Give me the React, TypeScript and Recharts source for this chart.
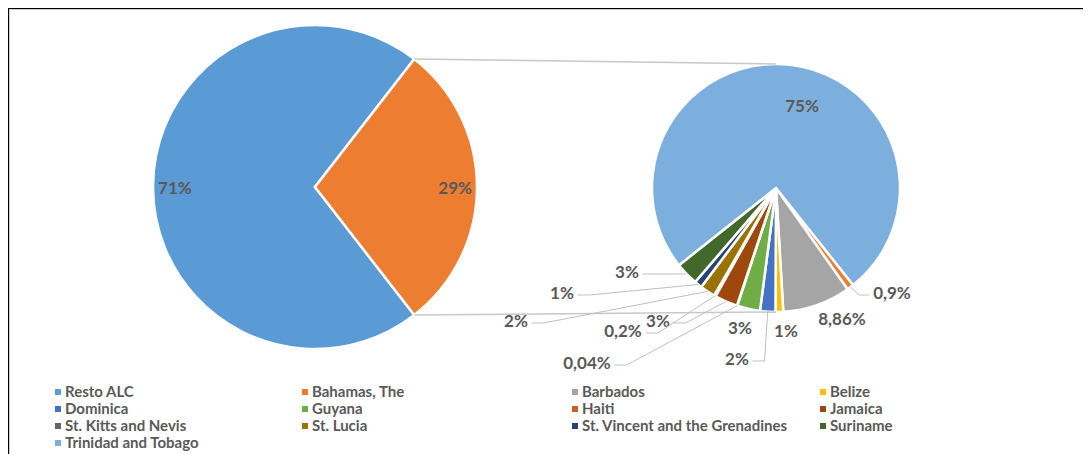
/**
 * Pie of pie: Resto ALC vs Caribe, con desglose por país del Caribe
 */
import { PieChart, Pie, Cell, Legend } from 'recharts';

// primer pie
const mainNames = ['Resto ALC', 'Caribe'];
const mainValues = [71, 29];
const mainColors = ['#5B9BD5', '#ED7D31'];

// segundo pie (desglose del Caribe)
const caribNames = [
  'Bahamas, The',
  'Barbados',
  'Belize',
  'Dominica',
  'Guyana',
  'Haiti',
  'Jamaica',
  'St. Kitts and Nevis',
  'St. Lucia',
  'St. Vincent and the Grenadines',
  'Suriname',
  'Trinidad and Tobago',
];
const caribValues = [0.9, 8.86, 1, 2, 3, 0.04, 3, 0.2, 2, 1, 3, 75];
const caribColors = [
  '#ED7D31',
  '#A5A5A5',
  '#FFC000',
  '#4472C4',
  '#70AD47',
  '#CC6020',
  '#9E480E',
  '#636363',
  '#997300',
  '#264478',
  '#43682B',
  '#7CAFDD',
];

// layout
const W = 1081;
const H = 444;
const LEFT = { cx: 305, cy: 177, r: 162, start: 52.2 };
const RIGHT = { cx: 766, cy: 178, r: 124, start: -51.5 };
// posiciones de las etiquetas del segundo pie (dx, dy desde el centro, con línea guía)
const caribLabelPos: [number, number, boolean][] = [
  [116, 104, true],
  [66, 130, false],
  [10, 142, false],
  [-39, 170, true],
  [-36, 139, false],
  [-189, 174, true],
  [-118, 132, true],
  [-153, 142, true],
  [-260, 132, true],
  [-214, 104, true],
  [-149, 83, true],
  [26, -83, false],
];

const RAD = Math.PI / 180;
const LABEL_COLOR = '#595959';
const FONT = 'Lato, "Open Sans", sans-serif';

const fmtPct = (v: number) => String(v).replace('.', ',') + '%';

const textWidth = (s: string) => {
  let w = 0;
  for (const ch of s) {
    if (ch === ',') w += 4.5;
    else if (ch === '%') w += 15;
    else w += 10;
  }
  return w;
};

const mainData = mainNames.map((name, i) => ({ name, value: mainValues[i] }));
const caribData = caribNames.map((name, i) => ({ name, value: caribValues[i] }));

const legendNames = [mainNames[0], ...caribNames];
const legendColors = [mainColors[0], ...caribColors];

const polar = (cx: number, cy: number, r: number, angle: number) => ({
  x: cx + r * Math.cos(-angle * RAD),
  y: cy + r * Math.sin(-angle * RAD),
});

const renderMainLabel = (p: any) => {
  const { cx, cy, midAngle, outerRadius, index } = p;
  const pos = polar(cx, cy, outerRadius * 0.865, midAngle);
  let connectors = null;
  if (index === 1) {
    // líneas que unen la porción del Caribe con el segundo pie
    const total = mainValues.reduce((a, b) => a + b, 0);
    const a0 = LEFT.start + (360 * mainValues[0]) / total;
    const a1 = LEFT.start + 360;
    const p0 = polar(cx, cy, outerRadius, a1);
    const p1 = polar(cx, cy, outerRadius, a0);
    connectors = (
      <g stroke="#C8C8C8" strokeWidth={1.5}>
        <line x1={p0.x} y1={p0.y} x2={RIGHT.cx} y2={RIGHT.cy - RIGHT.r} />
        <line x1={p1.x} y1={p1.y} x2={RIGHT.cx} y2={RIGHT.cy + RIGHT.r} />
      </g>
    );
  }
  return (
    <g>
      {connectors}
      <text
        x={pos.x}
        y={pos.y}
        textAnchor="middle"
        dominantBaseline="central"
        fill={LABEL_COLOR}
        fontSize={17}
        fontWeight={700}
        fontFamily={FONT}
      >
        {fmtPct(mainValues[index])}
      </text>
    </g>
  );
};

const renderCaribLabel = (p: any) => {
  const { cx, cy, midAngle, outerRadius, index } = p;
  const [dx, dy, hasLine] = caribLabelPos[index];
  const tx = cx + dx;
  const ty = cy + dy;
  const text = fmtPct(caribValues[index]);
  let guide = null;
  if (hasLine) {
    const w = textWidth(text);
    const s = polar(cx, cy, outerRadius, midAngle);
    const right = dx > 0;
    const ex = right ? tx - w / 2 - 3 : tx + w / 2 + 3;
    const ey = ty + 3;
    const bx = right ? ex - 10 : ex + 12;
    guide = (
      <polyline
        points={`${s.x},${s.y} ${bx},${ey} ${ex},${ey}`}
        fill="none"
        stroke="#BFBFBF"
        strokeWidth={1}
      />
    );
  }
  return (
    <g>
      {guide}
      <text
        x={tx}
        y={ty}
        textAnchor="middle"
        dominantBaseline="central"
        fill={LABEL_COLOR}
        fontSize={17}
        fontWeight={700}
        fontFamily={FONT}
      >
        {text}
      </text>
    </g>
  );
};

const renderLegend = () => (
  <div
    style={{
      display: 'grid',
      gridTemplateColumns: '247px 270px 248px 200px',
      paddingLeft: 45,
      fontFamily: FONT,
      fontSize: 15,
      fontWeight: 700,
      color: LABEL_COLOR,
      lineHeight: '17px',
    }}
  >
    {legendNames.map((name, i) => (
      <div key={name} style={{ display: 'flex', alignItems: 'center', whiteSpace: 'nowrap' }}>
        <span
          style={{
            display: 'inline-block',
            width: 6,
            height: 6,
            background: legendColors[i],
            marginRight: 4,
          }}
        />
        {name}
      </div>
    ))}
  </div>
);

export default function App() {
  return (
    <div
      style={{
        marginTop: -1,
        marginLeft: -1,
        width: 1084,
        height: 447,
        borderTop: '2px solid #000',
        borderLeft: '2px solid #000',
        overflow: 'hidden',
        boxSizing: 'border-box',
      }}
    >
      <div
        style={{
          borderTop: '1px solid #D0D0D0',
          borderLeft: '1px solid #D0D0D0',
          width: W + 1,
          height: H + 1,
          background: '#fff',
        }}
      >
        <PieChart width={W} height={H} margin={{ top: 0, right: 0, bottom: 0, left: 0 }}>
          <Pie
            data={mainData}
            dataKey="value"
            nameKey="name"
            cx={LEFT.cx}
            cy={LEFT.cy}
            outerRadius={LEFT.r}
            startAngle={LEFT.start}
            endAngle={LEFT.start + 360}
            stroke="#fff"
            strokeWidth={2.5}
            label={renderMainLabel}
            labelLine={false}
            isAnimationActive={false}
          >
            {mainData.map((d, i) => (
              <Cell key={d.name} fill={mainColors[i]} />
            ))}
          </Pie>
          <Pie
            data={caribData}
            dataKey="value"
            nameKey="name"
            cx={RIGHT.cx}
            cy={RIGHT.cy}
            outerRadius={RIGHT.r}
            startAngle={RIGHT.start}
            endAngle={RIGHT.start - 360}
            stroke="#fff"
            strokeWidth={2.5}
            label={renderCaribLabel}
            labelLine={false}
            isAnimationActive={false}
          >
            {caribData.map((d, i) => (
              <Cell key={d.name} fill={caribColors[i]} />
            ))}
          </Pie>
          <Legend
            content={renderLegend}
            wrapperStyle={{ position: 'absolute', left: 0, top: 373, width: W, bottom: 'auto' }}
          />
        </PieChart>
      </div>
    </div>
  );
}
